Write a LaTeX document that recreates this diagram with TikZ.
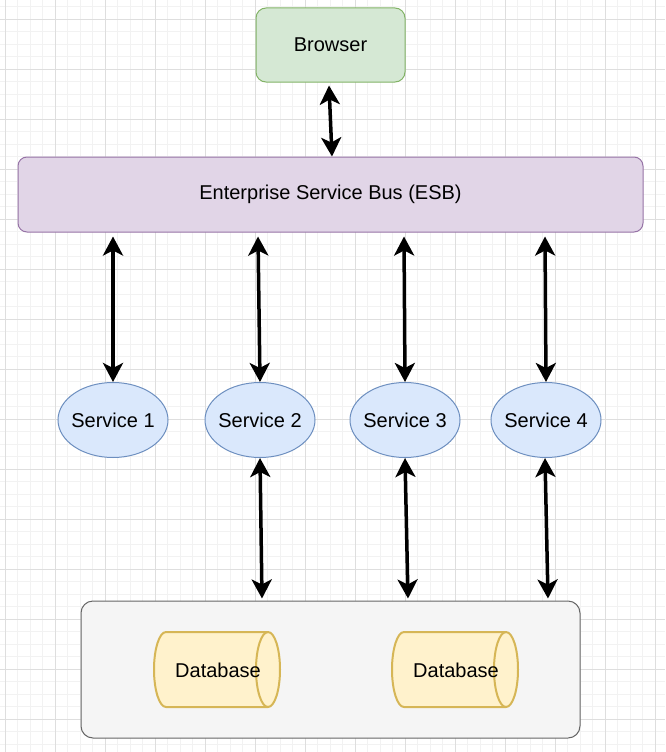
\documentclass[tikz,border=0pt]{standalone}
\usepackage{fontspec}
\setmainfont{Liberation Sans}
\usetikzlibrary{arrows.meta,shapes.geometric,calc}
\definecolor{gminor}{HTML}{F2F2F2}
\definecolor{gmajor}{HTML}{DEDEDE}
\definecolor{grfill}{HTML}{D5E8D4}
\definecolor{grline}{HTML}{82B366}
\definecolor{pufill}{HTML}{E1D5E7}
\definecolor{puline}{HTML}{9673A6}
\definecolor{blfill}{HTML}{DAE8FC}
\definecolor{blline}{HTML}{6C8EBF}
\definecolor{gyfill}{HTML}{F5F5F5}
\definecolor{gyline}{HTML}{666666}
\definecolor{yefill}{HTML}{FFF2CC}
\definecolor{yeline}{HTML}{D6B656}
\tikzset{
  lbl/.style={font=\fontsize{20}{24}\selectfont, text=black, inner sep=0pt},
  browserbox/.style={lbl, draw=grline, fill=grfill, line width=1pt, rounded corners=10pt, minimum width=149pt, minimum height=74pt},
  esbbox/.style={lbl, draw=puline, fill=pufill, line width=1pt, rounded corners=9pt, minimum width=625pt, minimum height=75pt},
  servicebox/.style={lbl, ellipse, draw=blline, fill=blfill, line width=1pt, inner xsep=-20pt, inner ysep=0pt, minimum width=110pt, minimum height=75pt},
  containerbox/.style={draw=gyline, fill=gyfill, line width=1pt, rounded corners=12pt, minimum width=499pt, minimum height=137pt, inner sep=0pt},
  dbline/.style={draw=yeline, fill=yefill, line width=2pt},
  biarrow/.style={line width=3.5pt, black, {Stealth[length=19pt,width=20pt,inset=5pt]}-{Stealth[length=19pt,width=20pt,inset=5pt]}},
}
\begin{document}
\begin{tikzpicture}[x=1pt,y=-1pt]
\useasboundingbox (0,0) rectangle (665,752);
\fill[white] (0,0) rectangle (665,752);
% grid
\foreach \i in {0,...,54} {
  \draw[gminor, line width=0.8pt] ({-7.5+12.5*\i},0) -- ({-7.5+12.5*\i},752);
}
\foreach \i in {0,...,61} {
  \draw[gminor, line width=0.8pt] (0,{6.5+12.5*\i}) -- (665,{6.5+12.5*\i});
}
\foreach \i in {0,...,13} {
  \draw[gmajor, line width=0.8pt] ({5+50*\i},0) -- ({5+50*\i},752);
}
\foreach \i in {0,...,14} {
  \draw[gmajor, line width=0.8pt] (0,{19+50*\i}) -- (665,{19+50*\i});
}
% nodes
\node[browserbox] (br) at (330.5,45) {Browser};
\node[esbbox] (esb) at (330.5,194.5) {Enterprise Service Bus (ESB)};
\node[servicebox] (s1) at (113,420) {Service 1};
\node[servicebox] (s2) at (260,420) {Service 2};
\node[servicebox] (s3) at (405,420) {Service 3};
\node[servicebox] (s4) at (546,420) {Service 4};
\node[containerbox] (box) at (330.5,669.5) {};
% database cylinders
\foreach \cx/\nm in {217/db1, 455/db2} {
  \path[dbline] ({\cx-51},632) -- ({\cx+51},632)
    arc[start angle=90, end angle=-90, x radius=12pt, y radius=37.5pt]
    -- ({\cx-51},707)
    arc[start angle=270, end angle=90, x radius=12pt, y radius=37.5pt] -- cycle;
  \draw[yeline, line width=2pt] ({\cx+51},632)
    arc[start angle=90, end angle=270, x radius=12pt, y radius=37.5pt];
  \node[lbl] (\nm) at ({\cx+1},670) {Database};
}
% connectors
\draw[biarrow] ([xshift=-1.5pt,yshift=-3pt]br.south) -- ([xshift=1.5pt]br.south |- esb.north);
\draw[biarrow] ([yshift=-4pt]s1.north |- esb.south) -- (s1.north);
\draw[biarrow] ([xshift=-2pt,yshift=-4pt]s2.north |- esb.south) -- (s2.north);
\draw[biarrow] ([xshift=-1pt,yshift=-4pt]s3.north |- esb.south) -- (s3.north);
\draw[biarrow] ([xshift=-1pt,yshift=-4pt]s4.north |- esb.south) -- (s4.north);
\draw[biarrow] (s2.south) -- ([xshift=2pt,yshift=2pt]s2.south |- box.north);
\draw[biarrow] (s3.south) -- ([xshift=3pt,yshift=2pt]s3.south |- box.north);
\draw[biarrow] ([xshift=-1pt]s4.south) -- ([xshift=2pt,yshift=2pt]s4.south |- box.north);
\end{tikzpicture}
\end{document}
